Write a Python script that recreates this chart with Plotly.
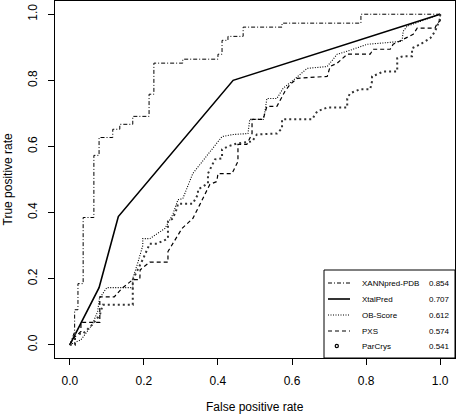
import plotly.graph_objects as go

# ---------------- data ----------------
XANN_FPR = [0, 0.013, 0.013, 0.022, 0.022, 0.036, 0.036, 0.065, 0.065, 0.079, 0.079, 0.116, 0.116,
            0.135, 0.135, 0.170, 0.170, 0.214, 0.214, 0.227, 0.227, 0.305, 0.305, 0.400, 0.400,
            0.411, 0.411, 0.427, 0.427, 0.468, 0.468, 0.573, 0.573, 0.786, 0.786, 1.0]
XANN_TPR = [0, 0.04, 0.106, 0.106, 0.185, 0.185, 0.385, 0.385, 0.573, 0.573, 0.627, 0.627, 0.652,
            0.652, 0.667, 0.667, 0.691, 0.691, 0.758, 0.758, 0.852, 0.852, 0.864, 0.864, 0.879,
            0.879, 0.921, 0.921, 0.933, 0.933, 0.961, 0.961, 0.973, 0.973, 1.0, 1.0]

XTAL_FPR = [0, 0.079, 0.131, 0.441, 1.0]
XTAL_TPR = [0, 0.173, 0.388, 0.800, 1.0]

OB_FPR = [0, 0.03, 0.06, 0.075, 0.08, 0.10, 0.17, 0.17, 0.184, 0.197, 0.197, 0.216, 0.257, 0.278,
          0.292, 0.305, 0.332, 0.351, 0.373, 0.411, 0.441, 0.481, 0.486, 0.522, 0.527, 0.532,
          0.559, 0.576, 0.603, 0.616, 0.641, 0.695, 0.722, 0.749, 0.803, 0.897, 0.90, 0.911, 1.0]
OB_TPR = [0, 0.015, 0.06, 0.10, 0.14, 0.173, 0.173, 0.20, 0.25, 0.30, 0.321, 0.321, 0.352, 0.394,
          0.439, 0.442, 0.518, 0.545, 0.576, 0.630, 0.636, 0.639, 0.682, 0.682, 0.706, 0.745,
          0.745, 0.776, 0.800, 0.812, 0.836, 0.842, 0.879, 0.888, 0.909, 0.918, 0.948, 0.964, 1.0]

PXS_FPR = [0, 0.01, 0.03, 0.03, 0.081, 0.081, 0.12, 0.14, 0.17, 0.189, 0.19, 0.216, 0.265, 0.265,
           0.303, 0.332, 0.351, 0.378, 0.397, 0.40, 0.438, 0.454, 0.454, 0.478, 0.492, 0.492,
           0.522, 0.532, 0.559, 0.581, 0.595, 0.614, 0.695, 0.703, 0.722, 0.749, 0.811, 0.819,
           0.865, 0.873, 0.90, 0.927, 0.938, 0.986, 0.992, 1.0, 1.0]
PXS_TPR = [0, 0.02, 0.04, 0.068, 0.068, 0.145, 0.145, 0.17, 0.197, 0.197, 0.227, 0.25, 0.25, 0.282,
           0.352, 0.382, 0.424, 0.485, 0.494, 0.518, 0.518, 0.555, 0.606, 0.606, 0.639, 0.682,
           0.682, 0.721, 0.721, 0.767, 0.788, 0.806, 0.812, 0.842, 0.852, 0.879, 0.879, 0.894,
           0.894, 0.909, 0.924, 0.939, 0.958, 0.958, 0.973, 0.98, 1.0]

PAR_FPR = [0, 0.014, 0.014, 0.035, 0.06, 0.081, 0.089, 0.17, 0.17, 0.184, 0.197, 0.216, 0.235,
           0.265, 0.265, 0.278, 0.289, 0.292, 0.332, 0.346, 0.346, 0.373, 0.373, 0.392, 0.411,
           0.411, 0.427, 0.451, 0.492, 0.505, 0.559, 0.573, 0.573, 0.654, 0.668, 0.695, 0.749,
           0.749, 0.757, 0.784, 0.811, 0.816, 0.816, 0.83, 0.846, 0.884, 0.884, 0.90, 0.924,
           0.924, 0.946, 0.973, 0.986, 0.992, 1.0, 1.0]
PAR_TPR = [0, 0, 0.033, 0.033, 0.06, 0.09, 0.121, 0.121, 0.197, 0.227, 0.258, 0.306, 0.306,
           0.321, 0.373, 0.382, 0.412, 0.427, 0.427, 0.455, 0.47, 0.488, 0.518, 0.561, 0.564,
           0.591, 0.60, 0.609, 0.615, 0.636, 0.639, 0.655, 0.682, 0.682, 0.706, 0.718, 0.718,
           0.745, 0.761, 0.773, 0.773, 0.797, 0.812, 0.818, 0.827, 0.827, 0.867, 0.873, 0.873,
           0.897, 0.909, 0.927, 0.948, 0.964, 0.988, 1.0]

NAMES = ["XANNpred-PDB", "XtalPred", "OB-Score", "PXS", "ParCrys"]
AUC = ["0.854", "0.707", "0.612", "0.574", "0.541"]
TICKS = [0.0, 0.2, 0.4, 0.6, 0.8, 1.0]
TICK_TEXT = ["0.0", "0.2", "0.4", "0.6", "0.8", "1.0"]

FONT = "Liberation Sans, Arial, Helvetica, sans-serif"

series = [
    (XANN_FPR, XANN_TPR, dict(width=1, dash="4px,2px,1px,2px", color="black")),
    (XTAL_FPR, XTAL_TPR, dict(width=1.6, dash="solid", color="black")),
    (OB_FPR, OB_TPR, dict(width=1.1, dash="1px,1.5px", color="black")),
    (PXS_FPR, PXS_TPR, dict(width=1.2, dash="4px,3px", color="black")),
    (PAR_FPR, PAR_TPR, dict(width=2.0, dash="2px,3px", color="#333333")),
]

fig = go.Figure()
for (xs, ys, ln), name in zip(series, NAMES):
    fig.add_trace(go.Scatter(x=xs, y=ys, mode="lines", name=name,
                             line=ln, showlegend=False, hoverinfo="skip"))

axis_common = dict(
    range=[-0.04, 1.04], tickmode="array", tickvals=TICKS, ticktext=TICK_TEXT,
    ticks="outside", ticklen=6, tickwidth=1, tickcolor="black",
    showline=True, linecolor="black", linewidth=1, mirror=True,
    showgrid=False, zeroline=False, fixedrange=True,
    tickfont=dict(family=FONT, size=12, color="black"),
)

fig.update_layout(
    width=456, height=417,
    margin=dict(l=55, r=1, t=1, b=59),
    paper_bgcolor="white", plot_bgcolor="white",
    xaxis=dict(**axis_common, ticklabelstandoff=6),
    yaxis=dict(**axis_common, tickangle=-90, ticklabelstandoff=6),
    font=dict(family=FONT, color="black"),
    hovermode=False,
)

# axis titles
fig.add_annotation(text="False positive rate", xref="paper", yref="paper",
                   x=0.5, y=(357 - 406) / 357, xanchor="center", yanchor="middle",
                   showarrow=False, font=dict(size=12, family=FONT, color="black"))
fig.add_annotation(text="True positive rate", xref="paper", yref="paper",
                   x=(7 - 55) / 400, y=0.5, xanchor="center", yanchor="middle",
                   textangle=-90, showarrow=False,
                   font=dict(size=12, family=FONT, color="black"))

# legend box (drawn manually, R style)
def px_x(p):
    return (p - 55) / 400

def px_y(p):
    return (357 - p) / 357

fig.add_shape(type="rect", xref="paper", yref="paper",
              x0=px_x(324), x1=1.0, y0=0.0, y1=px_y(269),
              line=dict(color="black", width=1), fillcolor="white", layer="above")

rows_py = [282, 298, 314, 330, 345]
for i, ((_, _, ln), name, auc) in enumerate(zip(series, NAMES, AUC)):
    yy = px_y(rows_py[i])
    if i < 4:
        fig.add_shape(type="line", xref="paper", yref="paper",
                      x0=px_x(328), x1=px_x(350), y0=yy, y1=yy,
                      line=dict(color="black", width=min(ln["width"], 1.6), dash=ln["dash"]),
                      layer="above")
    else:
        fig.add_shape(type="circle", xref="paper", yref="paper",
                      x0=px_x(335.2), x1=px_x(338.4), y0=yy - 1.6 / 357, y1=yy + 1.6 / 357,
                      line=dict(color="black", width=1.2), layer="above")
    fig.add_annotation(text=name, xref="paper", yref="paper", x=px_x(360), y=yy,
                       xanchor="left", yanchor="middle", showarrow=False,
                       font=dict(size=8, family=FONT, color="black"))
    fig.add_annotation(text=auc, xref="paper", yref="paper", x=px_x(427), y=yy,
                       xanchor="left", yanchor="middle", showarrow=False,
                       font=dict(size=8, family=FONT, color="black"))

fig.write_html(
    "out.html",
    config={"displayModeBar": False, "staticPlot": True},
    post_script="document.body.style.margin='0';document.body.style.padding='0';"
                "document.body.style.overflow='hidden';",
)
